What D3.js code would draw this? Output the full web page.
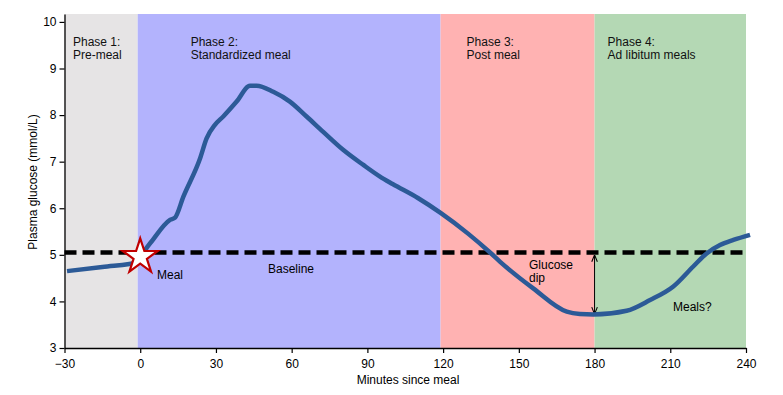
<!DOCTYPE html>
<html>
<head>
<meta charset="utf-8">
<script src="https://cdn.jsdelivr.net/npm/d3@7"></script>
<style>
  body { margin: 0; background: #fff; }
  text { font-family: "Liberation Sans", Arial, sans-serif; }
</style>
</head>
<body>
<div id="chart"></div>
<script>
// glucose curve (minutes, mmol/L)
let minutes = [-29, -15, 0, 1.5, 5, 11.8, 13.8, 17.1, 23.7, 26.3, 29.6, 32.9, 38.2, 43.5, 46.1, 52.7, 59.3, 65.9, 72.5, 80.5, 88.4, 95, 100, 110, 119, 130, 138.6, 142.6, 155.7, 169, 174.2, 179.5, 192.7, 202, 211.2, 219.1, 224.4, 229.7, 235, 241.6];
let glucose = [4.65, 4.74, 4.85, 5.05, 5.32, 5.75, 5.8, 6.25, 7.07, 7.5, 7.79, 7.97, 8.29, 8.63, 8.63, 8.5, 8.29, 7.97, 7.64, 7.25, 6.93, 6.68, 6.52, 6.22, 5.9, 5.45, 5.05, 4.85, 4.28, 3.78, 3.73, 3.72, 3.8, 4.03, 4.32, 4.75, 5.03, 5.21, 5.32, 5.43];

let phaseStart = [-30, -1, 119, 180];
let phaseEnd = [-1, 119, 180, 240];
let phaseTitles = ["Phase 1:", "Phase 2:", "Phase 3:", "Phase 4:"];
let phaseNames = ["Pre-meal", "Standardized meal", "Post meal", "Ad libitum meals"];
let phaseColors = ["#e6e4e5", "#b3b3fd", "#ffb2b2", "#b4d8b4"];

let baseline = 5.05;
let dipLow = 3.72;
let xTicks = [-30, 0, 30, 60, 90, 120, 150, 180, 210, 240];
let yTicks = [3, 4, 5, 6, 7, 8, 9, 10];

let width = 783, height = 395;
let svg = d3.select("#chart").append("svg").attr("width", width).attr("height", height);

let x = d3.scaleLinear().domain([-30, 240]).range([64.5, 746]);
let y = d3.scaleLinear().domain([3, 10.17]).range([348, 14]);

// phase backgrounds
svg.selectAll("rect.phase")
  .data(phaseStart)
  .enter().append("rect")
    .attr("class", "phase")
    .attr("x", function(d){ return x(d); })
    .attr("y", y(10.17))
    .attr("width", function(d,i){ return x(phaseEnd[i]) - x(d); })
    .attr("height", y(3) - y(10.17))
    .attr("fill", function(d,i){ return phaseColors[i]; });

// phase labels
let labelOffset = [8.5, 53, 26, 13];
phaseStart.forEach(function(d,i){
  let px = x(d) + labelOffset[i];
  let t = svg.append("text").attr("x", px).attr("y", 46).attr("font-size", "12px").attr("fill", "#111");
  t.append("tspan").attr("x", px).text(phaseTitles[i]);
  t.append("tspan").attr("x", px).attr("dy", 12.8).text(phaseNames[i]);
});

// baseline
svg.append("line")
  .attr("x1", x(-30)).attr("x2", x(240))
  .attr("y1", y(baseline)).attr("y2", y(baseline))
  .attr("stroke", "#000").attr("stroke-width", 4.5)
  .attr("stroke-dasharray", "12,6");

// dip arrow
let defs = svg.append("defs");
defs.append("marker").attr("id", "ah").attr("viewBox", "0 0 10 10")
  .attr("refX", 9).attr("refY", 5).attr("markerWidth", 7).attr("markerHeight", 9)
  .attr("orient", "auto-start-reverse")
  .append("path").attr("d", "M0,1 L10,5 L0,9").attr("fill", "none").attr("stroke", "#000").attr("stroke-width", 1.5);
svg.append("line")
  .attr("x1", x(180)).attr("x2", x(180))
  .attr("y1", y(baseline) + 3).attr("y2", y(dipLow) - 1)
  .attr("stroke", "#000").attr("stroke-width", 1)
  .attr("marker-start", "url(#ah)").attr("marker-end", "url(#ah)");

// glucose line
let line = d3.line()
  .x(function(d,i){ return x(d); })
  .y(function(d,i){ return y(glucose[i]); })
  .curve(d3.curveMonotoneX);

svg.append("path")
  .attr("fill", "none")
  .attr("stroke", "#2c5a97")
  .attr("stroke-width", 4.5)
  .attr("stroke-linejoin", "round")
  .attr("d", line(minutes));

// star at meal time
let star = d3.symbol().type(d3.symbolStar).size(380);
svg.append("path")
  .attr("d", star())
  .attr("transform", "translate(" + x(0) + "," + y(4.96) + ")")
  .attr("fill", "#fff")
  .attr("stroke", "#c00000")
  .attr("stroke-width", 2.2)
  .attr("stroke-linejoin", "miter");

// annotations
svg.append("text").attr("x", 157).attr("y", 279).attr("font-size", "12px").text("Meal");
svg.append("text").attr("x", 268).attr("y", 273).attr("font-size", "12px").text("Baseline");
let g = svg.append("text").attr("x", 529).attr("y", 269).attr("font-size", "12px");
g.append("tspan").attr("x", 529).text("Glucose");
g.append("tspan").attr("x", 529).attr("dy", 13).text("dip");
svg.append("text").attr("x", 673).attr("y", 311).attr("font-size", "12px").text("Meals?");

// axes
let xAxis = svg.append("g").attr("transform", "translate(0," + y(3) + ")")
  .call(d3.axisBottom(x).tickValues(xTicks).tickSize(5).tickSizeOuter(0)
    .tickFormat(function(d){ return d < 0 ? "\u2212" + Math.abs(d) : d; }));
let yAxis = svg.append("g").attr("transform", "translate(" + x(-30) + ",0)")
  .call(d3.axisLeft(y).tickValues(yTicks).tickSize(5).tickSizeOuter(0));
[xAxis, yAxis].forEach(function(a){
  a.select(".domain").attr("stroke", "#000").attr("stroke-width", 1.3);
  a.selectAll(".tick line").attr("stroke", "#000").attr("stroke-width", 1.2);
  a.selectAll(".tick text").attr("font-size", "12px").attr("font-family", "Liberation Sans, Arial, sans-serif").attr("fill", "#000");
});
xAxis.selectAll(".tick text").attr("dy", "1em");

svg.append("text").attr("x", 408).attr("y", 384).attr("text-anchor", "middle").attr("font-size", "12px").text("Minutes since meal");
svg.append("text")
  .attr("transform", "translate(37,182) rotate(-90)")
  .attr("text-anchor", "middle").attr("font-size", "12px")
  .text("Plasma glucose (mmol/L)");
</script>
</body>
</html>
